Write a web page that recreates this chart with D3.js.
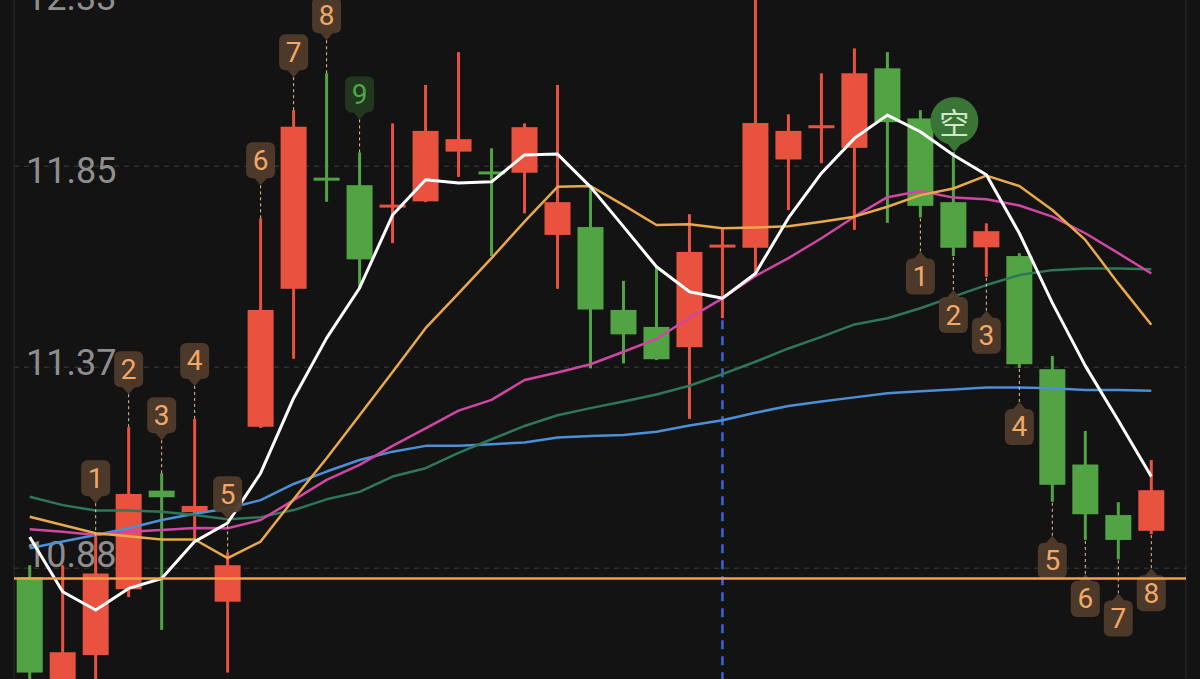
<!DOCTYPE html>
<html>
<head>
<meta charset="utf-8">
<script src="https://cdn.jsdelivr.net/npm/d3@7"></script>
<style>
  html, body { margin: 0; padding: 0; background: #131313; }
  svg { display: block; }
</style>
</head>
<body>
<div id="chart"></div>
<script>
// candles, one per session (prices)
const opens  = [10.857, 10.58, 10.669, 10.828, 11.066, 11.014, 10.798, 11.220, 11.553, 11.820, 11.803, 11.750, 11.764, 11.884, 11.835, 11.833, 11.683, 11.702, 11.502, 11.461, 11.412, 11.654, 11.652, 11.865, 11.942, 11.893, 12.085, 11.964, 11.762, 11.653, 11.632, 11.359, 11.129, 11.007, 10.969];
const highs  = [10.886, 10.886, 10.956, 11.219, 11.108, 11.239, 10.917, 11.723, 11.984, 12.073, 11.882, 11.952, 12.045, 12.124, 11.892, 11.952, 12.045, 11.795, 11.572, 11.606, 11.733, 11.698, 12.300, 11.974, 12.073, 12.133, 12.124, 11.984, 11.883, 11.711, 11.639, 11.391, 11.210, 11.038, 11.140];
const lows   = [10.561, 10.52, 10.55, 10.809, 10.730, 10.947, 10.627, 11.217, 11.384, 11.763, 11.555, 11.663, 11.762, 11.823, 11.632, 11.735, 11.553, 11.361, 11.373, 11.381, 11.239, 11.482, 11.584, 11.743, 11.856, 11.695, 11.712, 11.725, 11.632, 11.582, 11.362, 11.039, 10.947, 10.900, 10.961];
const closes = [10.627, 10.676, 10.866, 11.058, 11.050, 11.029, 10.886, 11.502, 11.944, 11.815, 11.624, 11.755, 11.934, 11.914, 11.830, 11.943, 11.762, 11.503, 11.443, 11.383, 11.642, 11.658, 11.953, 11.934, 11.946, 12.073, 11.955, 11.753, 11.652, 11.692, 11.371, 11.080, 11.009, 10.947, 11.067];

// moving averages
const ma5  = [10.954, 10.822, 10.778, 10.830, 10.854, 10.943, 10.988, 11.108, 11.289, 11.434, 11.555, 11.731, 11.816, 11.808, 11.811, 11.876, 11.878, 11.799, 11.703, 11.606, 11.546, 11.530, 11.590, 11.724, 11.832, 11.916, 11.972, 11.932, 11.876, 11.828, 11.687, 11.519, 11.367, 11.235, 11.100];
const ma10 = [11.003, 10.983, 10.963, 10.956, 10.948, 10.948, 10.903, 10.943, 11.045, 11.144, 11.248, 11.352, 11.458, 11.542, 11.627, 11.715, 11.799, 11.801, 11.755, 11.707, 11.709, 11.699, 11.701, 11.704, 11.715, 11.727, 11.751, 11.779, 11.795, 11.826, 11.801, 11.743, 11.671, 11.566, 11.466];
const ma20 = [10.973, 10.967, 10.959, 10.967, 10.971, 10.976, 10.975, 10.995, 11.043, 11.092, 11.128, 11.174, 11.216, 11.259, 11.285, 11.333, 11.351, 11.371, 11.401, 11.432, 11.483, 11.530, 11.584, 11.627, 11.675, 11.727, 11.774, 11.789, 11.773, 11.769, 11.754, 11.727, 11.687, 11.639, 11.590];
const ma30 = [11.051, 11.031, 11.018, 11.018, 11.015, 11.007, 10.997, 11.002, 11.019, 11.045, 11.063, 11.100, 11.120, 11.157, 11.190, 11.222, 11.248, 11.265, 11.281, 11.298, 11.319, 11.347, 11.377, 11.409, 11.437, 11.467, 11.482, 11.506, 11.534, 11.562, 11.586, 11.598, 11.602, 11.602, 11.600];
const ma60 = [10.927, 10.943, 10.959, 10.975, 10.995, 11.010, 11.023, 11.043, 11.082, 11.112, 11.140, 11.160, 11.174, 11.174, 11.178, 11.182, 11.194, 11.198, 11.200, 11.208, 11.223, 11.236, 11.254, 11.270, 11.281, 11.291, 11.301, 11.306, 11.310, 11.315, 11.315, 11.313, 11.309, 11.309, 11.307];

// y axis
const tickValues = [12.335, 11.85, 11.365, 10.88];
const tickLabels = ['12.33', '11.85', '11.37', '10.88'];

// sequence markers
const upperMarkIdx  = [2, 3, 4, 5, 6, 7, 8, 9, 10];
const upperMarkText = ['1', '2', '3', '4', '5', '6', '7', '8', '9'];
const lowerMarkIdx  = [27, 28, 29, 30, 31, 32, 33, 34];
const lowerMarkText = ['1', '2', '3', '4', '5', '6', '7', '8'];
const shortIdx = 28;
const shortText = '空';
const cursorIdx = 21;
const priceLine = 10.854;

const fullWidth = 1200;
const fullHeight = 679;
const plotLeft = 14;
const plotRight = 1186;
const bodyWidth = 26;

const colors = {
  bg: '#131313', up: '#e8523f', down: '#52a344',
  grid: '#2f2f2f', border: '#232323', axisText: '#8e8e8e',
  ma5: '#ffffff', ma10: '#e9a84a', ma20: '#cf47a3', ma30: '#2e7758', ma60: '#4b8fd6',
  priceLine: '#f0a04a', cursor: '#3d63d8',
  markBox: '#4f3b2b', markText: '#f2a867', markLink: '#e8bf94',
  nineBox: '#22391f', nineText: '#4fa847'
};

const svg = d3.select('#chart')
  .append('svg')
  .attr('width', fullWidth)
  .attr('height', fullHeight);

svg.append('rect')
  .attr('width', fullWidth)
  .attr('height', fullHeight)
  .attr('fill', colors.bg);

const x = d3.scaleLinear()
  .domain([0, opens.length - 1])
  .range([29.7, 1151.3]);

const y = d3.scaleLinear()
  .domain([10.88, 11.85])
  .range([567.7, 165.7]);

// label baselines do not sit exactly on their grid lines
const labelY = d3.scaleLinear()
  .domain([10.88, 11.85])
  .range([567, 183]);

// frame
[plotLeft, plotRight].forEach(px => {
  svg.append('line')
    .attr('x1', px).attr('x2', px)
    .attr('y1', 0).attr('y2', fullHeight)
    .attr('stroke', colors.border)
    .attr('stroke-width', 1.5);
});

// grid
const grid = svg.append('g')
  .attr('transform', `translate(${plotLeft}, 0)`)
  .call(d3.axisLeft(y)
    .tickValues(tickValues)
    .tickSize(-(plotRight - plotLeft))
    .tickFormat(''));
grid.select('.domain').remove();
grid.selectAll('.tick line')
  .attr('stroke', colors.grid)
  .attr('stroke-width', 1.5)
  .attr('stroke-dasharray', '5,5');

svg.append('g')
  .selectAll('text')
  .data(tickValues)
  .enter()
  .append('text')
  .attr('x', 26)
  .attr('y', d => Math.max(10, labelY(d)))
  .attr('fill', colors.axisText)
  .style('font-family', 'Roboto, "Noto Sans", sans-serif')
  .style('font-size', '36px')
  .text((d, i) => tickLabels[i]);

// cursor line
svg.append('line')
  .attr('x1', x(cursorIdx)).attr('x2', x(cursorIdx))
  .attr('y1', y(lows[cursorIdx]) + 2)
  .attr('y2', fullHeight)
  .attr('stroke', colors.cursor)
  .attr('stroke-width', 2.5)
  .attr('stroke-dasharray', '9,7');

// candles
const candles = svg.append('g')
  .selectAll('g')
  .data(opens.map((o, i) => ({ i, o, h: highs[i], l: lows[i], c: closes[i] })))
  .enter()
  .append('g');

const candleColor = d => d.c >= d.o ? colors.up : colors.down;

candles.append('rect')
  .attr('x', d => x(d.i) - 1.5)
  .attr('y', d => y(d.h))
  .attr('width', 3)
  .attr('height', d => y(d.l) - y(d.h))
  .attr('fill', candleColor);

candles.append('rect')
  .attr('x', d => x(d.i) - bodyWidth / 2)
  .attr('y', d => {
    const top = y(Math.max(d.o, d.c));
    const h = Math.abs(y(d.o) - y(d.c));
    return h < 3 ? top - (3 - h) / 2 : top;
  })
  .attr('width', bodyWidth)
  .attr('height', d => Math.max(3, Math.abs(y(d.o) - y(d.c))))
  .attr('fill', candleColor);

// moving averages
const line = d3.line()
  .x((d, i) => x(i))
  .y(d => y(d));

[['ma60', ma60], ['ma30', ma30], ['ma20', ma20], ['ma10', ma10], ['ma5', ma5]].forEach(([key, values]) => {
  svg.append('path')
    .datum(values)
    .attr('d', line)
    .attr('fill', 'none')
    .attr('stroke', colors[key])
    .attr('stroke-width', key === 'ma5' ? 3 : 2.5)
    .attr('stroke-linejoin', 'round');
});

// sequence markers
const markFont = 'Roboto, "Noto Sans", sans-serif';

function drawMark(i, label, above) {
  const cx = x(i);
  const anchor = above ? y(highs[i]) : y(lows[i]);
  const tip = above ? anchor - 33 : anchor + 34;
  const green = label === '9';
  const g = svg.append('g');

  g.append('line')
    .attr('x1', cx).attr('x2', cx)
    .attr('y1', tip).attr('y2', anchor)
    .attr('stroke', colors.markLink)
    .attr('stroke-width', 1)
    .attr('stroke-dasharray', '3,3');

  const boxTop = above ? tip - 43 : tip + 7;
  const base = above ? tip - 8 : tip + 8;
  g.append('rect')
    .attr('x', cx - 14.5)
    .attr('y', boxTop)
    .attr('width', 29)
    .attr('height', 36)
    .attr('rx', 6)
    .attr('fill', green ? colors.nineBox : colors.markBox)
    .attr('fill-opacity', 0.95);
  g.append('path')
    .attr('d', `M${cx - 7},${base}L${cx + 7},${base}L${cx},${tip}Z`)
    .attr('fill', green ? colors.nineBox : colors.markBox)
    .attr('fill-opacity', 0.95);
  g.append('text')
    .attr('x', cx)
    .attr('y', boxTop + 18)
    .attr('text-anchor', 'middle')
    .attr('dominant-baseline', 'central')
    .attr('fill', green ? colors.nineText : colors.markText)
    .style('font-family', markFont)
    .style('font-size', '28px')
    .text(label);
}

upperMarkIdx.forEach((idx, k) => drawMark(idx, upperMarkText[k], true));
lowerMarkIdx.forEach((idx, k) => drawMark(idx, lowerMarkText[k], false));

// sell marker
const sx = x(shortIdx) + 1;
const sTip = y(highs[shortIdx]);
const sCy = sTip - 31;
svg.append('path')
  .attr('d', `M${sx - 9},${sCy + 20}L${sx + 9},${sCy + 20}L${sx},${sTip}Z`)
  .attr('fill', '#3a7536');
svg.append('circle')
  .attr('cx', sx)
  .attr('cy', sCy)
  .attr('r', 24)
  .attr('fill', '#3a7536');
svg.append('text')
  .attr('x', sx)
  .attr('y', sCy)
  .attr('text-anchor', 'middle')
  .attr('dominant-baseline', 'central')
  .attr('fill', '#cfe6c8')
  .style('font-family', '"Noto Sans CJK SC", sans-serif')
  .style('font-size', '30px')
  .text(shortText);

// last price line
svg.append('line')
  .attr('x1', plotLeft).attr('x2', plotRight)
  .attr('y1', y(priceLine)).attr('y2', y(priceLine))
  .attr('stroke', colors.priceLine)
  .attr('stroke-width', 2.5);
</script>
</body>
</html>
